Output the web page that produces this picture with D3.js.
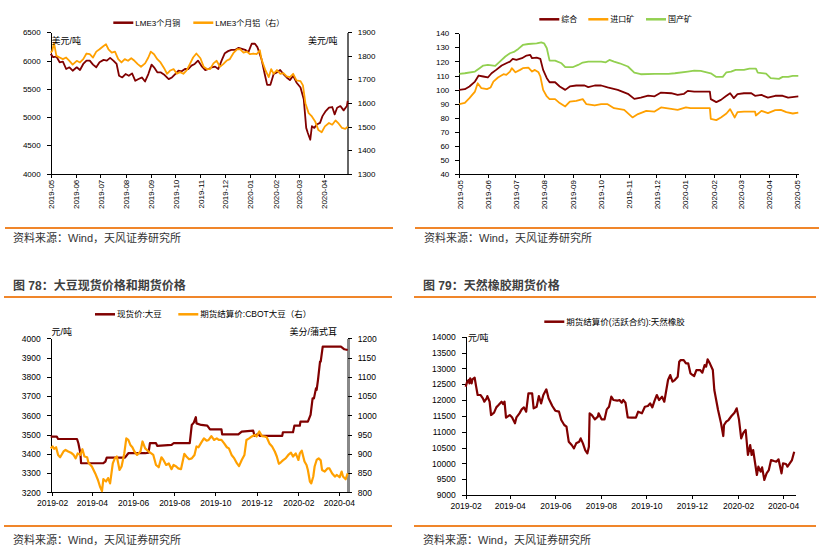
<!DOCTYPE html>
<meta charset="utf-8">
<style>
body { margin: 0; background: #fff; }
text { font-family: "Liberation Sans", "Noto Sans CJK SC", sans-serif; }
.axis text { font-size: 8px; fill: #000; }
.axis path, .axis line { stroke: #000; shape-rendering: crispEdges; }
.big .axis text { font-size: 8.5px; }
.src { font-size: 11px; fill: #333; }
.ttl { font-size: 12px; font-weight: bold; fill: #404040; }
.leg { font-size: 8px; fill: #000; }
.unit { font-size: 9px; fill: #000; }
</style>
<svg width="819" height="554"></svg>
<script src="https://d3js.org/d3.v7.min.js"></script>
<script>

// ---- panel 1: LME copper / aluminium
var copper = [["2019-05-01",6119],["2019-05-04",6060],["2019-05-08",6071],["2019-05-12",5970],["2019-05-16",5982],["2019-05-20",5851],["2019-05-24",5881],["2019-05-28",5821],["2019-06-02",5881],["2019-06-06",5833],["2019-06-10",5940],["2019-06-14",6000],["2019-06-18",6000],["2019-06-22",5929],["2019-06-26",5881],["2019-06-30",5970],["2019-07-05",6012],["2019-07-09",6000],["2019-07-13",6048],["2019-07-17",6000],["2019-07-21",5940],["2019-07-24",5732],["2019-07-28",5702],["2019-08-01",5762],["2019-08-05",5732],["2019-08-09",5774],["2019-08-13",5643],["2019-08-17",5673],["2019-08-21",5702],["2019-08-25",5631],["2019-08-29",5762],["2019-09-02",5929],["2019-09-05",5881],["2019-09-09",5792],["2019-09-13",5792],["2019-09-18",5744],["2019-09-23",5673],["2019-09-27",5702],["2019-10-01",5762],["2019-10-05",5821],["2019-10-09",5810],["2019-10-13",5851],["2019-10-17",5851],["2019-10-21",5911],["2019-10-25",5940],["2019-10-29",6000],["2019-11-03",5893],["2019-11-07",5833],["2019-11-11",5851],["2019-11-15",5881],["2019-11-19",5893],["2019-11-23",5851],["2019-11-27",6000],["2019-12-01",6131],["2019-12-05",6167],["2019-12-09",6190],["2019-12-14",6190],["2019-12-18",6226],["2019-12-22",6208],["2019-12-26",6190],["2019-12-30",6149],["2020-01-03",6298],["2020-01-07",6298],["2020-01-10",6238],["2020-01-15",6030],["2020-01-19",5762],["2020-01-22",5571],["2020-01-26",5571],["2020-01-30",5762],["2020-02-03",5792],["2020-02-07",5833],["2020-02-11",5762],["2020-02-15",5702],["2020-02-19",5655],["2020-02-23",5732],["2020-02-27",5613],["2020-03-03",5524],["2020-03-07",5315],["2020-03-10",4810],["2020-03-12",4720],["2020-03-15",4601],["2020-03-17",4839],["2020-03-20",4810],["2020-03-23",4869],["2020-03-27",4899],["2020-03-30",5018],["2020-04-03",5107],["2020-04-07",5167],["2020-04-11",5179],["2020-04-14",5048],["2020-04-17",5167],["2020-04-21",5196],["2020-04-25",5119],["2020-04-29",5196],["2020-04-30",5286]];
var aluminium = [["2019-05-01",1814],["2019-05-03",1821],["2019-05-05",1856],["2019-05-08",1800],["2019-05-12",1793],["2019-05-16",1786],["2019-05-20",1793],["2019-05-24",1779],["2019-05-28",1763],["2019-06-02",1779],["2019-06-06",1772],["2019-06-10",1786],["2019-06-14",1810],["2019-06-18",1807],["2019-06-22",1793],["2019-06-26",1818],["2019-06-30",1828],["2019-07-05",1842],["2019-07-08",1849],["2019-07-11",1828],["2019-07-15",1814],["2019-07-19",1818],["2019-07-23",1786],["2019-07-27",1772],["2019-07-31",1786],["2019-08-04",1779],["2019-08-08",1790],["2019-08-12",1779],["2019-08-16",1765],["2019-08-20",1754],["2019-08-25",1768],["2019-08-29",1793],["2019-09-01",1818],["2019-09-05",1807],["2019-09-09",1786],["2019-09-13",1772],["2019-09-18",1744],["2019-09-21",1724],["2019-09-25",1738],["2019-09-29",1744],["2019-10-03",1724],["2019-10-07",1731],["2019-10-11",1724],["2019-10-15",1738],["2019-10-19",1765],["2019-10-23",1793],["2019-10-27",1810],["2019-11-01",1790],["2019-11-05",1754],["2019-11-09",1744],["2019-11-13",1744],["2019-11-17",1768],["2019-11-21",1779],["2019-11-25",1754],["2019-11-29",1765],["2019-12-03",1779],["2019-12-07",1786],["2019-12-12",1814],["2019-12-16",1828],["2019-12-20",1828],["2019-12-24",1814],["2019-12-28",1818],["2020-01-01",1807],["2020-01-05",1810],["2020-01-09",1807],["2020-01-13",1824],["2020-01-15",1786],["2020-01-20",1738],["2020-01-24",1710],["2020-01-27",1744],["2020-01-30",1724],["2020-02-03",1740],["2020-02-07",1724],["2020-02-11",1727],["2020-02-15",1713],["2020-02-19",1710],["2020-02-23",1724],["2020-02-27",1696],["2020-03-03",1693],["2020-03-06",1675],["2020-03-09",1599],["2020-03-13",1557],["2020-03-17",1543],["2020-03-21",1522],["2020-03-25",1485],["2020-03-29",1476],["2020-04-02",1501],["2020-04-07",1515],["2020-04-11",1508],["2020-04-15",1526],["2020-04-19",1512],["2020-04-23",1494],["2020-04-27",1490],["2020-04-30",1499]];
var lmeLeftTicks = [4000, 4500, 5000, 5500, 6000, 6500];
var lmeRightTicks = [1300, 1400, 1500, 1600, 1700, 1800, 1900];

// ---- panel 2: ore price index
var oreTotal = [["2019-05-01",99.8],["2019-05-07",100.3],["2019-05-12",102.2],["2019-05-18",105.7],["2019-05-22",110],["2019-05-27",109.3],["2019-06-01",108.6],["2019-06-05",111.6],["2019-06-10",114],["2019-06-16",117.1],["2019-06-21",118.7],["2019-06-25",119.9],["2019-06-28",121.8],["2019-07-02",121.1],["2019-07-08",122.3],["2019-07-13",124.2],["2019-07-17",124.6],["2019-07-19",122.3],["2019-07-24",122.7],["2019-07-28",121.8],["2019-07-31",114],["2019-08-04",108.1],["2019-08-07",105.2],["2019-08-13",105.2],["2019-08-18",102.2],["2019-08-24",99.8],["2019-08-29",102.2],["2019-09-05",102.9],["2019-09-14",102.9],["2019-09-18",101.7],["2019-09-25",102.9],["2019-10-02",102.9],["2019-10-09",101.5],["2019-10-20",99.8],["2019-10-31",97],["2019-11-07",93.4],["2019-11-14",94.3],["2019-11-22",95.7],["2019-11-29",95.2],["2019-12-06",97.9],["2019-12-17",97.4],["2019-12-24",96.2],["2019-12-31",97],["2020-01-04",99.1],["2020-01-11",98.6],["2020-01-28",98.6],["2020-01-29",93.2],["2020-02-04",91.1],["2020-02-09",92.7],["2020-02-15",95.6],["2020-02-19",97.4],["2020-02-23",93.9],["2020-02-27",96.7],["2020-03-05",97.4],["2020-03-13",97.4],["2020-03-17",95.6],["2020-03-24",96.2],["2020-03-31",94.3],["2020-04-08",95.6],["2020-04-16",95.6],["2020-04-22",94.3],["2020-05-03",95.1]];
var oreImport = [["2019-05-01",89.6],["2019-05-07",90.6],["2019-05-12",93.9],["2019-05-18",98.6],["2019-05-21",104.5],["2019-05-25",101],["2019-05-31",100.3],["2019-06-04",101.5],["2019-06-07",105.7],["2019-06-12",108.6],["2019-06-18",110.9],["2019-06-21",110.4],["2019-06-25",112.8],["2019-06-27",115.2],["2019-07-01",112.3],["2019-07-06",114],["2019-07-09",115.2],["2019-07-15",115.6],["2019-07-19",112.8],["2019-07-22",114],["2019-07-26",112.3],["2019-07-28",109.3],["2019-07-31",99.8],["2019-08-04",95.1],["2019-08-07",93.2],["2019-08-13",93.2],["2019-08-18",90.4],["2019-08-24",88],["2019-08-29",91.5],["2019-09-05",92],["2019-09-12",93.2],["2019-09-16",89.6],["2019-09-25",88.7],["2019-10-02",89.6],["2019-10-09",89.6],["2019-10-16",86.8],["2019-10-27",85.6],["2019-11-05",80.2],["2019-11-11",82.6],["2019-11-20",84.9],["2019-11-29",84.4],["2019-12-06",87.3],["2019-12-17",86.3],["2019-12-24",85.6],["2020-01-02",87.3],["2020-01-07",86.8],["2020-01-28",86.8],["2020-01-29",79.2],["2020-02-04",78.3],["2020-02-09",80.2],["2020-02-15",83],["2020-02-19",86.1],["2020-02-24",80.2],["2020-02-27",84],["2020-03-05",84.4],["2020-03-17",84.4],["2020-03-18",81.6],["2020-03-24",84.9],["2020-03-31",83.3],["2020-04-08",85.4],["2020-04-14",85.6],["2020-04-20",84],["2020-04-27",83],["2020-05-03",83.7]];
var oreDomestic = [["2019-05-01",111.2],["2019-05-07",111.6],["2019-05-18",112.8],["2019-05-23",115.2],["2019-05-27",117.1],["2019-06-01",117.5],["2019-06-09",116.8],["2019-06-14",119.9],["2019-06-20",123.5],["2019-06-25",125.8],["2019-06-30",127],["2019-07-04",128.9],["2019-07-09",131.7],["2019-07-15",132.4],["2019-07-24",132.9],["2019-07-29",133.6],["2019-08-01",132.9],["2019-08-04",129.4],["2019-08-07",120.6],["2019-08-13",120.6],["2019-08-20",118.7],["2019-08-24",115.9],["2019-09-01",115.9],["2019-09-07",117.5],["2019-09-12",119.2],["2019-09-18",119.9],["2019-10-02",119.9],["2019-10-07",119.4],["2019-10-11",121.1],["2019-10-16",119.9],["2019-10-22",118.7],["2019-10-31",116.4],["2019-11-07",112.1],["2019-11-14",110.9],["2019-11-29",111.2],["2019-12-14",111.2],["2019-12-21",111.6],["2020-01-04",112.8],["2020-01-11",113.5],["2020-01-18",113.3],["2020-01-29",111.6],["2020-02-04",109],["2020-02-11",109],["2020-02-15",112.3],["2020-02-20",112.8],["2020-02-25",114],["2020-03-05",114],["2020-03-11",114.9],["2020-03-18",114.9],["2020-03-20",112.1],["2020-03-29",111.4],["2020-04-03",108.1],["2020-04-12",107.6],["2020-04-16",109],["2020-04-22",109],["2020-04-27",109.7],["2020-05-03",109.7]];
var oreTicks = [40, 50, 60, 70, 80, 90, 100, 110, 120, 130, 140];

// ---- panel 3: soybean spot / CBOT
var soySpot = [["2019-01-30",3489],["2019-02-08",3489],["2019-02-10",3477],["2019-03-10",3477],["2019-03-12",3455],["2019-03-15",3403],["2019-03-16",3351],["2019-03-27",3351],["2019-04-18",3351],["2019-04-21",3359],["2019-04-23",3380],["2019-05-20",3380],["2019-05-25",3403],["2019-06-19",3403],["2019-06-24",3406],["2019-06-26",3455],["2019-07-05",3455],["2019-07-07",3441],["2019-07-28",3446],["2019-07-31",3455],["2019-08-24",3455],["2019-08-27",3550],["2019-08-30",3562],["2019-09-02",3590],["2019-09-03",3558],["2019-09-10",3550],["2019-09-19",3546],["2019-09-23",3527],["2019-10-10",3527],["2019-10-11",3501],["2019-11-04",3501],["2019-11-09",3515],["2019-11-26",3520],["2019-11-28",3493],["2019-12-03",3503],["2019-12-06",3493],["2020-01-08",3493],["2020-01-09",3512],["2020-01-24",3512],["2020-01-26",3546],["2020-02-03",3546],["2020-02-04",3567],["2020-02-15",3567],["2020-02-19",3602],["2020-02-22",3688],["2020-02-24",3688],["2020-02-27",3740],["2020-02-28",3732],["2020-03-01",3784],["2020-03-04",3879],["2020-03-05",3879],["2020-03-08",3957],["2020-04-04",3957],["2020-04-09",3943],["2020-04-14",3939]];
var soyCbot = [["2019-01-30",914],["2019-02-02",919],["2019-02-04",913],["2019-02-07",917],["2019-02-10",897],["2019-02-13",891],["2019-02-18",906],["2019-02-21",910],["2019-02-25",906],["2019-03-01",903],["2019-03-05",897],["2019-03-08",888],["2019-03-11",901],["2019-03-15",897],["2019-03-18",912],["2019-03-21",893],["2019-03-25",891],["2019-03-27",877],["2019-04-01",867],["2019-04-06",849],["2019-04-10",832],["2019-04-13",815],["2019-04-16",803],["2019-04-18",834],["2019-04-22",828],["2019-04-25",837],["2019-04-28",823],["2019-05-02",875],["2019-05-05",888],["2019-05-08",893],["2019-05-12",858],["2019-05-15",867],["2019-05-19",901],["2019-05-22",940],["2019-05-25",936],["2019-05-28",923],["2019-05-31",917],["2019-06-03",906],["2019-06-07",897],["2019-06-12",906],["2019-06-15",932],["2019-06-19",914],["2019-06-24",906],["2019-06-28",901],["2019-07-01",897],["2019-07-05",871],["2019-07-09",865],["2019-07-13",891],["2019-07-16",884],["2019-07-20",871],["2019-07-24",875],["2019-07-28",860],["2019-07-31",871],["2019-08-04",867],["2019-08-07",862],["2019-08-11",860],["2019-08-16",900],["2019-08-19",893],["2019-08-23",886],["2019-08-27",888],["2019-08-31",897],["2019-09-03",919],["2019-09-06",917],["2019-09-10",929],["2019-09-14",940],["2019-09-18",934],["2019-09-21",936],["2019-09-25",946],["2019-09-29",936],["2019-10-03",940],["2019-10-06",936],["2019-10-10",936],["2019-10-14",927],["2019-10-18",917],["2019-10-21",914],["2019-10-25",897],["2019-10-29",888],["2019-11-02",875],["2019-11-05",868],["2019-11-09",884],["2019-11-13",897],["2019-11-16",936],["2019-11-20",940],["2019-11-24",945],["2019-11-28",949],["2019-12-01",945],["2019-12-05",958],["2019-12-09",946],["2019-12-13",945],["2019-12-16",943],["2019-12-20",927],["2019-12-24",919],["2019-12-28",906],["2019-12-31",893],["2020-01-03",874],["2020-01-06",878],["2020-01-09",883],["2020-01-13",888],["2020-01-17",897],["2020-01-21",903],["2020-01-24",893],["2020-01-28",901],["2020-02-01",884],["2020-02-03",901],["2020-02-06",908],["2020-02-10",880],["2020-02-13",871],["2020-02-15",858],["2020-02-18",828],["2020-02-20",823],["2020-02-23",841],["2020-02-25",867],["2020-02-28",884],["2020-03-02",888],["2020-03-05",883],["2020-03-07",858],["2020-03-11",854],["2020-03-15",862],["2020-03-18",862],["2020-03-22",849],["2020-03-26",841],["2020-03-29",845],["2020-04-02",839],["2020-04-05",854],["2020-04-07",841],["2020-04-11",834],["2020-04-14",849]];
var soyLeftTicks = [3200, 3300, 3400, 3500, 3600, 3700, 3800, 3900, 4000];
var soyRightTicks = [800, 850, 900, 950, 1000, 1050, 1100, 1150, 1200];

// ---- panel 4: natural rubber futures
var rubber = [["2019-02-01",12421],["2019-02-03",12579],["2019-02-05",12632],["2019-02-06",12526],["2019-02-07",12684],["2019-02-09",12526],["2019-02-10",12653],["2019-02-13",12705],["2019-02-15",12421],["2019-02-17",12158],["2019-02-21",12158],["2019-02-24",12053],["2019-02-26",11947],["2019-03-01",12053],["2019-03-02",12126],["2019-03-05",11947],["2019-03-07",11526],["2019-03-11",11600],["2019-03-14",11768],["2019-03-17",11842],["2019-03-21",11947],["2019-03-23",11874],["2019-03-25",11947],["2019-03-27",11442],["2019-04-01",11526],["2019-04-04",11453],["2019-04-08",11263],["2019-04-10",11453],["2019-04-14",11579],["2019-04-17",11705],["2019-04-20",11768],["2019-04-23",11632],["2019-04-26",12211],["2019-05-01",12211],["2019-05-03",11737],["2019-05-07",11789],["2019-05-10",12126],["2019-05-13",11895],["2019-05-16",12158],["2019-05-20",12337],["2019-05-23",12053],["2019-05-28",11811],["2019-06-01",11663],["2019-06-06",11632],["2019-06-09",11368],["2019-06-13",11211],["2019-06-16",11158],["2019-06-19",10684],["2019-06-23",10579],["2019-06-26",10474],["2019-06-29",10632],["2019-07-03",10684],["2019-07-05",10789],["2019-07-08",10632],["2019-07-11",10421],["2019-07-14",10316],["2019-07-16",10526],["2019-07-17",11579],["2019-07-20",11526],["2019-07-24",11389],["2019-07-28",11474],["2019-07-29",11579],["2019-08-02",11389],["2019-08-06",11389],["2019-08-09",11705],["2019-08-12",11789],["2019-08-15",12105],["2019-08-18",12000],["2019-08-23",11979],["2019-08-26",12000],["2019-08-29",11916],["2019-08-31",12000],["2019-09-03",11916],["2019-09-06",11453],["2019-09-11",11442],["2019-09-17",11442],["2019-09-20",11632],["2019-09-25",11579],["2019-09-29",11789],["2019-10-03",11811],["2019-10-06",11895],["2019-10-09",11768],["2019-10-12",11979],["2019-10-15",12158],["2019-10-18",12000],["2019-10-22",12105],["2019-10-25",11947],["2019-10-30",12632],["2019-11-02",12789],["2019-11-05",12579],["2019-11-08",12632],["2019-11-12",12737],["2019-11-14",13211],["2019-11-16",13263],["2019-11-20",13263],["2019-11-23",13158],["2019-11-26",13158],["2019-11-29",12842],["2019-12-02",12789],["2019-12-04",12758],["2019-12-07",12947],["2019-12-12",12947],["2019-12-15",12863],["2019-12-18",13105],["2019-12-20",13053],["2019-12-22",13284],["2019-12-25",13158],["2019-12-29",12947],["2019-12-31",12316],["2020-01-05",11684],["2020-01-09",11263],["2020-01-12",10863],["2020-01-13",11211],["2020-01-16",11316],["2020-01-19",11368],["2020-01-23",11495],["2020-01-27",11600],["2020-01-30",11737],["2020-02-02",11389],["2020-02-05",10789],["2020-02-08",10968],["2020-02-11",11053],["2020-02-14",10263],["2020-02-17",10579],["2020-02-19",10263],["2020-02-21",10421],["2020-02-24",9947],["2020-02-26",9632],["2020-02-28",9895],["2020-03-02",9737],["2020-03-04",9874],["2020-03-07",9474],["2020-03-10",9684],["2020-03-13",9789],["2020-03-16",10105],["2020-03-20",10074],["2020-03-23",10053],["2020-03-26",10126],["2020-03-30",9684],["2020-04-01",10000],["2020-04-05",9979],["2020-04-07",9895],["2020-04-10",10000],["2020-04-13",10105],["2020-04-16",10368]];
var rubberTicks = [9000, 9500, 10000, 10500, 11000, 11500, 12000, 12500, 13000, 13500, 14000];

var RED = "#800000", ORANGE = "#FFA000", GREEN = "#92D050", RULE = "#F0862A";

var svg = d3.select("svg");
var parse = d3.timeParse("%Y-%m-%d");
var fmtMonth = d3.timeFormat("%Y-%m");
var fmtNum = d3.format("d");

function drawLine(data, x, y, color, w) {
  svg.append("path")
      .datum(data)
      .attr("fill", "none")
      .attr("stroke", color)
      .attr("stroke-width", w)
      .attr("stroke-linejoin", "round")
      .attr("d", d3.line()
        .x(function(d) { return x(parse(d[0])); })
        .y(function(d) { return y(d[1]); }));
}

function legend(items, y, size) {
  items.forEach(function(it) {
    svg.append("line")
        .attr("x1", it[0]).attr("x2", it[0] + 20)
        .attr("y1", y).attr("y2", y)
        .attr("stroke", it[1]).attr("stroke-width", 2.5);
    svg.append("text").attr("class", "leg")
        .attr("x", it[0] + 22).attr("y", y + 3)
        .style("font-size", size + "px")
        .text(it[2]);
  });
}

function rotatedX(x, y0, months) {
  var ax = svg.append("g").attr("class", "axis")
      .attr("transform", "translate(0," + y0 + ")")
      .call(d3.axisBottom(x).tickValues(months).tickFormat(fmtMonth).tickSize(4).tickSizeOuter(0));
  ax.selectAll("text")
      .attr("transform", "rotate(-90)")
      .attr("x", -6).attr("y", 0).attr("dy", "0.35em")
      .style("text-anchor", "end");
  return ax;
}

function flatX(x, y0, from, to) {
  return svg.append("g").attr("class", "axis")
      .attr("transform", "translate(0," + y0 + ")")
      .call(d3.axisBottom(x).tickValues(d3.timeMonth.range(parse(from), parse(to), 2))
        .tickFormat(fmtMonth).tickSize(4).tickSizeOuter(0).tickPadding(4));
}

function yAxis(y, x0, ticks, side) {
  var a = side == "left" ? d3.axisLeft(y) : d3.axisRight(y);
  return svg.append("g").attr("class", "axis")
      .attr("transform", "translate(" + x0 + ",0)")
      .call(a.tickValues(ticks).tickFormat(fmtNum).tickSize(4).tickSizeOuter(0).tickPadding(6));
}

function rule(x1, x2, y) {
  svg.append("line").attr("x1", x1).attr("x2", x2).attr("y1", y).attr("y2", y)
      .attr("stroke", RULE).attr("stroke-width", 2);
}

// ================= panel 1
var x1 = d3.scaleTime().domain([parse("2019-05-01"), parse("2020-04-30")]).range([50.7, 347.7]);
var y1L = d3.scaleLinear().domain([4000, 6500]).range([173.7, 32.3]);
var y1R = d3.scaleLinear().domain([1300, 1900]).range([173.7, 32.3]);
yAxis(y1L, 50.7, lmeLeftTicks, "left");
var r1 = yAxis(y1R, 347.7, lmeRightTicks, "right");
r1.select(".domain").style("stroke", "#666").style("stroke-width", 1.5);
rotatedX(x1, 173.7, d3.timeMonth.range(parse("2019-05-01"), parse("2020-04-02")));
drawLine(copper, x1, y1L, RED, 1.8);
drawLine(aluminium, x1, y1R, ORANGE, 1.8);
svg.append("text").attr("class", "unit").attr("x", 51.5).attr("y", 44).text("美元/吨");
svg.append("text").attr("class", "unit").attr("x", 337.5).attr("y", 44).attr("text-anchor", "end").text("美元/吨");
legend([[113.3, RED, "LME3个月铜"], [193.3, ORANGE, "LME3个月铝（右）"]], 22.7, 8);

// ================= panel 2
var x2 = d3.scaleTime().domain([parse("2019-05-01"), parse("2020-05-03")]).range([459.3, 798.3]);
var y2 = d3.scaleLinear().domain([40, 140]).range([174, 33.3]);
yAxis(y2, 459.3, oreTicks, "left");
rotatedX(x2, 174, d3.timeMonth.range(parse("2019-05-01"), parse("2020-05-02")));
drawLine(oreDomestic, x2, y2, GREEN, 1.8);
drawLine(oreTotal, x2, y2, RED, 1.8);
drawLine(oreImport, x2, y2, ORANGE, 1.8);
legend([[539.3, RED, "综合"], [588.3, ORANGE, "进口矿"], [646, GREEN, "国产矿"]], 19.3, 8);

rule(5, 393, 228);
rule(415, 819, 228);
svg.append("text").attr("class", "src").attr("x", 13).attr("y", 242).text("资料来源：Wind，天风证券研究所");
svg.append("text").attr("class", "src").attr("x", 424).attr("y", 242).text("资料来源：Wind，天风证券研究所");

svg.append("text").attr("class", "ttl").attr("x", 13).attr("y", 289.5).text("图 78：大豆现货价格和期货价格");
svg.append("text").attr("class", "ttl").attr("x", 423).attr("y", 289.5).text("图 79：天然橡胶期货价格");
rule(4, 392, 297);
rule(414, 816, 297);

// ================= panel 3
var x3 = d3.scaleTime().domain([parse("2019-01-30"), parse("2020-04-14")]).range([50.7, 347.7]);
var y3L = d3.scaleLinear().domain([3200, 4000]).range([492.3, 338.3]);
var y3R = d3.scaleLinear().domain([800, 1200]).range([492.3, 338.3]);
svg = svg.append("g").attr("class", "big");
yAxis(y3L, 50.7, soyLeftTicks, "left");
var r3 = yAxis(y3R, 347.7, soyRightTicks, "right");
r3.select(".domain").style("stroke", "#888").style("stroke-width", 3);
flatX(x3, 492.3, "2019-02-01", "2020-04-02");
drawLine(soySpot, x3, y3L, RED, 2.2);
drawLine(soyCbot, x3, y3R, ORANGE, 2.2);
svg.append("text").attr("class", "unit").attr("x", 51.5).attr("y", 335).text("元/吨");
svg.append("text").attr("class", "unit").attr("x", 337).attr("y", 335).attr("text-anchor", "end").text("美分/蒲式耳");
legend([[95, RED, "现货价:大豆"], [178.3, ORANGE, "期货结算价:CBOT大豆（右）"]], 314.3, 8.5);

// ================= panel 4
var x4 = d3.scaleTime().domain([parse("2019-02-01"), parse("2020-04-18")]).range([465.7, 795.7]);
var y4 = d3.scaleLinear().domain([9000, 14000]).range([495, 336.7]);
yAxis(y4, 465.7, rubberTicks, "left");
flatX(x4, 495, "2019-02-01", "2020-04-02");
drawLine(rubber, x4, y4, RED, 2.2);
svg.append("text").attr("class", "unit").attr("x", 468).attr("y", 341).text("元/吨");
legend([[544.3, RED, "期货结算价(活跃合约):天然橡胶"]], 321.7, 8.5);

svg = d3.select("svg");
rule(4, 392, 526);
rule(414, 816, 526);
svg.append("text").attr("class", "src").attr("x", 13).attr("y", 544).text("资料来源：Wind，天风证券研究所");
svg.append("text").attr("class", "src").attr("x", 423).attr("y", 544).text("资料来源：Wind，天风证券研究所");

</script>
